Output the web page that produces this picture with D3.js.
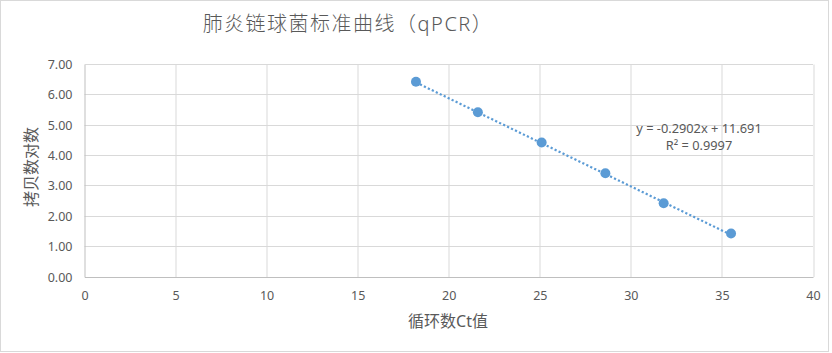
<!DOCTYPE html>
<html>
<head>
<meta charset="utf-8">
<script src="https://cdn.jsdelivr.net/npm/d3@7"></script>
<style>
  body { margin: 0; background: #fff; }
  text { font-family: "Noto Sans", "Noto Sans CJK SC", sans-serif; fill: #595959; }
</style>
</head>
<body>
<div class="chart"></div>
<script>
// Ct values and log copy numbers
const ctValues = [18.2, 21.6, 25.1, 28.6, 31.8, 35.5];
const logCopies = [6.43, 5.43, 4.43, 3.42, 2.43, 1.43];
const xTicks = [0, 5, 10, 15, 20, 25, 30, 35, 40];
const yTicks = [0, 1, 2, 3, 4, 5, 6, 7];
const slope = -0.2902, intercept = 11.691;
const eqLines = ["y = -0.2902x + 11.691", "R² = 0.9997"];
const titleText = "肺炎链球菌标准曲线（qPCR）";
const xTitle = "循环数Ct值";
const yTitle = "拷贝数对数";

const W = 832, H = 353;
const margin = {top: 64.5, left: 84.5, bottom: 76, right: 19};
const width = 813 - 84.5;
const height = 277 - 64.5;

const svg = d3.select(".chart").append("svg")
  .attr("width", W)
  .attr("height", H);

// chart border
svg.append("rect")
  .attr("x", 0.5).attr("y", 0.5)
  .attr("width", W - 4).attr("height", H - 2)
  .attr("fill", "#fff")
  .attr("stroke", "#d9d9d9");

const g = svg.append("g")
  .attr("transform", "translate(" + margin.left + "," + margin.top + ")");

const xScale = d3.scaleLinear().domain([0, 40]).range([0, width]);
const yScale = d3.scaleLinear().domain([0, 7]).range([height, 0]);

// gridlines
g.selectAll(".vgrid")
  .data(xTicks.slice(1))
  .enter().append("line")
  .attr("class", "vgrid")
  .attr("x1", d => Math.round(xScale(d)) + 0.5).attr("x2", d => Math.round(xScale(d)) + 0.5)
  .attr("y1", 0).attr("y2", height)
  .attr("stroke", "#d9d9d9");

g.selectAll(".hgrid")
  .data(yTicks.slice(1))
  .enter().append("line")
  .attr("class", "hgrid")
  .attr("x1", 0).attr("x2", width)
  .attr("y1", d => Math.round(yScale(d))).attr("y2", d => Math.round(yScale(d)))
  .attr("stroke", "#d9d9d9");

// axes
const xAxis = g.append("g")
  .attr("transform", "translate(0," + height + ")")
  .call(d3.axisBottom(xScale).tickValues(xTicks).tickSize(0).tickPadding(14).tickFormat(d3.format("d")));
const yAxis = g.append("g")
  .call(d3.axisLeft(yScale).tickValues(yTicks).tickSize(0).tickPadding(12).tickFormat(d3.format(".2f")));

[xAxis, yAxis].forEach(a => {
  a.select(".domain").attr("stroke", "#bfbfbf");
  a.selectAll("text").attr("font-size", 12.5).attr("fill", "#595959")
    .attr("font-family", "'Noto Sans', sans-serif");
});

// trendline (dotted)
const xr = d3.extent(ctValues);
g.append("line")
  .attr("x1", xScale(xr[0])).attr("y1", yScale(slope * xr[0] + intercept))
  .attr("x2", xScale(xr[1])).attr("y2", yScale(slope * xr[1] + intercept))
  .attr("stroke", "#5b9bd5")
  .attr("stroke-width", 2.2)
  .attr("stroke-dasharray", "2.2,2.2");

// points
g.selectAll(".pt")
  .data(ctValues)
  .enter().append("circle")
  .attr("class", "pt")
  .attr("cx", d => xScale(d))
  .attr("cy", (d, i) => yScale(logCopies[i]))
  .attr("r", 5)
  .attr("fill", "#5b9bd5");

// equation label
svg.selectAll(".eq")
  .data(eqLines)
  .enter().append("text")
  .attr("class", "eq")
  .attr("x", 699)
  .attr("y", (d, i) => 133 + i * 17)
  .attr("text-anchor", "middle")
  .attr("font-size", 12.8)
  .text(d => d);

// titles
svg.append("text")
  .attr("x", 348).attr("y", 31)
  .attr("text-anchor", "middle")
  .attr("font-size", 20)
  .attr("font-weight", 300)
  .attr("letter-spacing", 1.5)
  .attr("font-family", "'Noto Sans CJK SC', sans-serif")
  .text(titleText);

svg.append("text")
  .attr("x", 448).attr("y", 327)
  .attr("text-anchor", "middle")
  .attr("font-size", 16)
  .attr("font-family", "'Noto Sans CJK SC', sans-serif")
  .text(xTitle);

svg.append("text")
  .attr("transform", "translate(37,167) rotate(-90)")
  .attr("text-anchor", "middle")
  .attr("font-size", 16)
  .attr("font-family", "'Noto Sans CJK SC', sans-serif")
  .text(yTitle);
</script>
</body>
</html>
